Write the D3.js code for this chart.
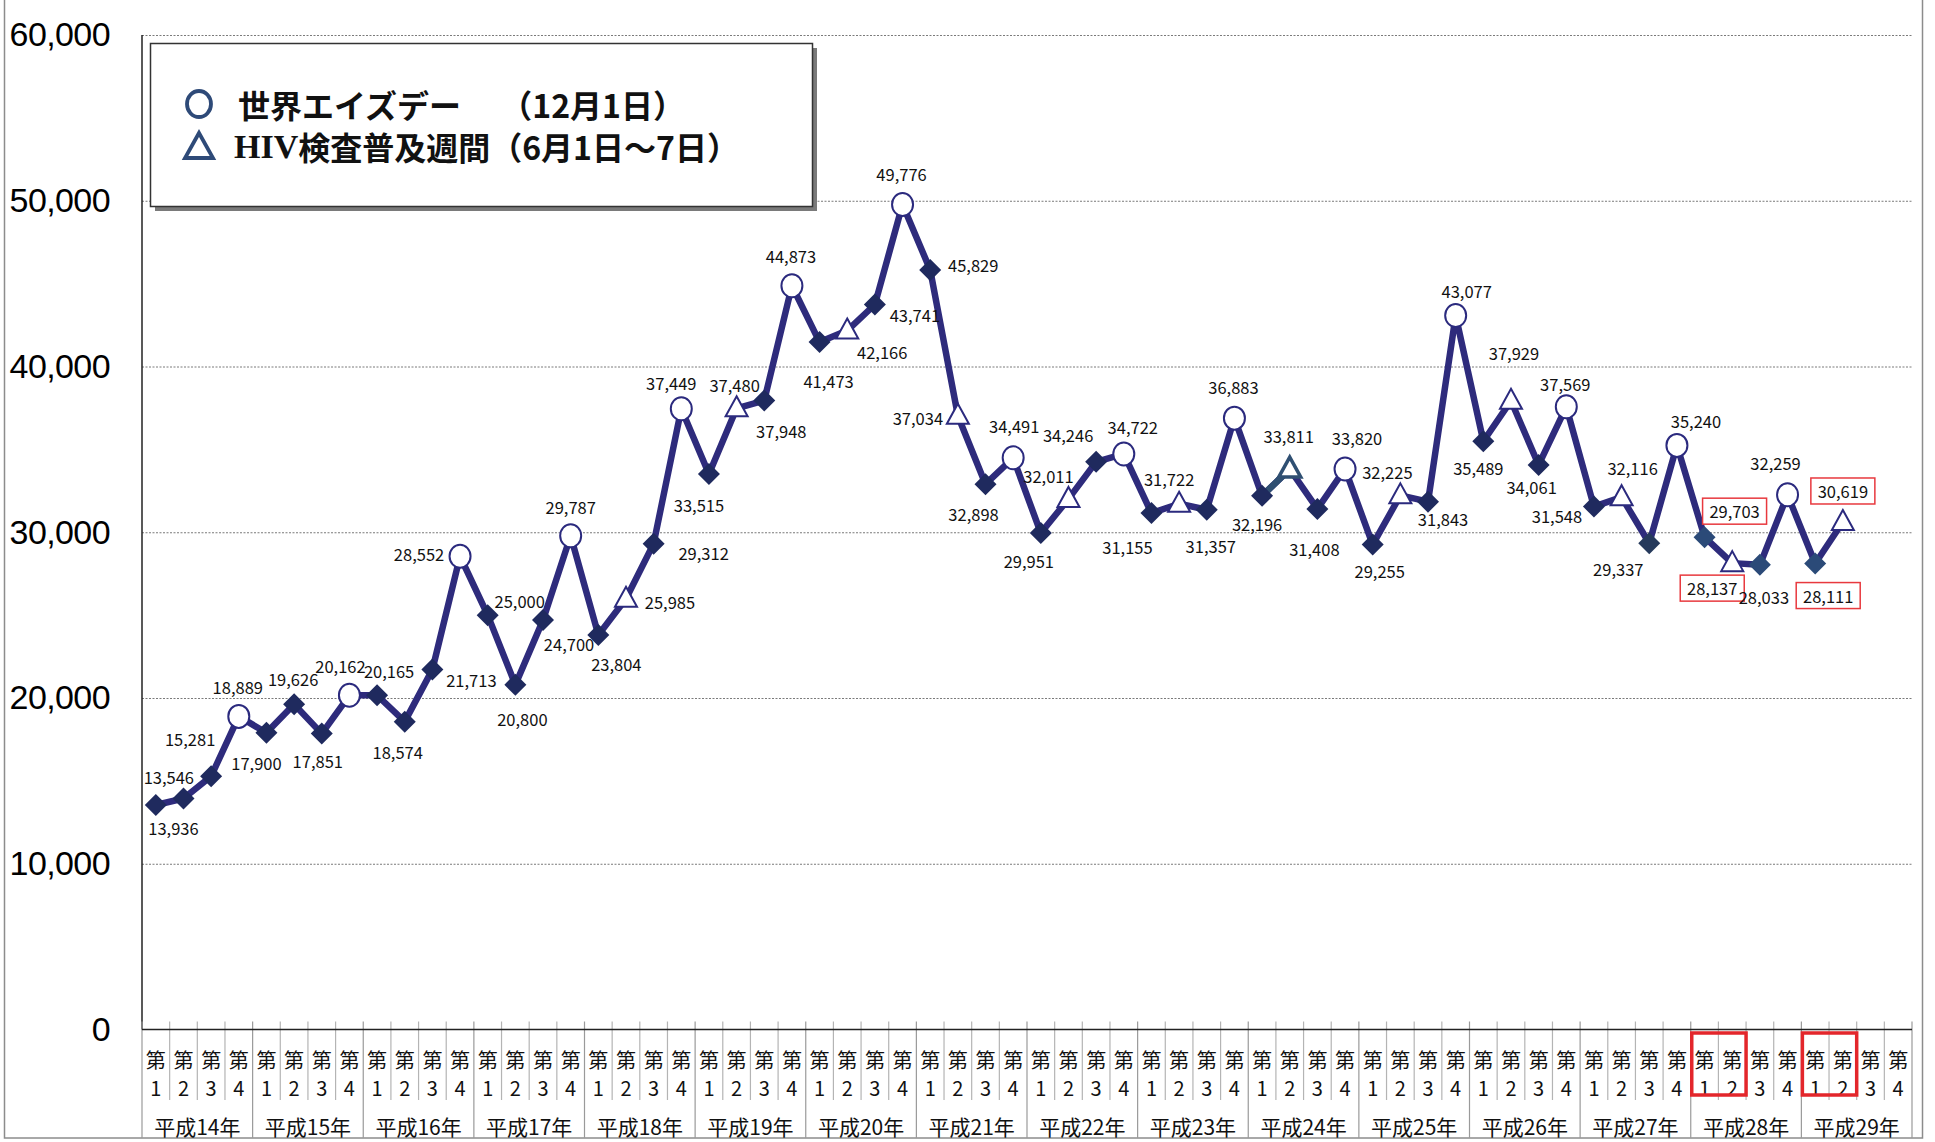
<!DOCTYPE html>
<html>
<head>
<meta charset="utf-8">
<script src="https://cdn.jsdelivr.net/npm/d3@7"></script>
<style>
  body { margin: 0; background: #fff; }
  svg { display: block; }
</style>
</head>
<body>
<script>
// quarterly counts, 平成14年 Q1 through 平成29年 Q2
const years = ['平成14年', '平成15年', '平成16年', '平成17年', '平成18年', '平成19年', '平成20年', '平成21年',
  '平成22年', '平成23年', '平成24年', '平成25年', '平成26年', '平成27年', '平成28年', '平成29年'];
const quarters = ['1', '2', '3', '4'];
const counts = [
  13546, 13936, 15281, 18889,
  17900, 19626, 17851, 20162,
  20165, 18574, 21713, 28552,
  25000, 20800, 24700, 29787,
  23804, 25985, 29312, 37449,
  33515, 37480, 37948, 44873,
  41473, 42166, 43741, 49776,
  45829, 37034, 32898, 34491,
  29951, 32011, 34246, 34722,
  31155, 31722, 31357, 36883,
  32196, 33811, 31408, 33820,
  29255, 32225, 31843, 43077,
  35489, 37929, 34061, 37569,
  31548, 32116, 29337, 35240,
  29703, 28137, 28033, 32259,
  28111, 30619
];
const yTicks = [0, 10000, 20000, 30000, 40000, 50000, 60000];
const legendItems = ['世界エイズデー　 （12月1日）', '検査普及週間（6月1日～7日）'];

// HIV testing week (triangles) only starts with 平成18年
const firstTestWeek = 17;
// the points that got a red box in the original
const boxedLabels = [56, 57, 60, 61];
const boxedQuarters = [[56, 57], [60, 61]];

// where each number sits relative to its marker (hand placed like the Excel original)
const labelNudge = [
  [13, -28], [-10, 29], [-21, -37], [-1, -29], [-10, 30], [-1, -25], [-4, 27], [-9, -29],
  [12, -24], [-7, 30], [39, 10], [-41, -2], [32, -14], [7, 34], [26, 24], [0, -29],
  [18, 29], [44, 3], [50, 9], [-10, -26], [-10, 31], [-2, -23], [17, 30], [-1, -30],
  [9, 39], [35, 21], [40, 11], [-1, -30], [43, -5], [-40, 2], [-12, 30], [1, -32],
  [-12, 28], [-20, -23], [-28, -27], [9, -27], [-24, 34], [-10, -25], [4, 36], [-1, -31],
  [-5, 28], [-1, -33], [-3, 40], [12, -31], [7, 26], [-13, -23], [15, 17], [11, -24],
  [-5, 27], [3, -48], [-7, 22], [-1, -23], [-37, 9], [11, -29], [-31, 26], [19, -24],
  [30, -26], [-20, 25], [4, 32], [-12, -32], [13, 32], [0, -31]
];

const width = 1935;
const height = 1142;
const plot = { left: 142, right: 1912, top: 35, bottom: 1029.5 };

const svg = d3.select('body').append('svg')
  .attr('width', width)
  .attr('height', height);

// outer frame, top edge sits just off the picture
svg.append('rect')
  .attr('x', 4.5).attr('y', -4)
  .attr('width', 1918).attr('height', 1142)
  .attr('fill', 'none')
  .attr('stroke', '#8c8c8c')
  .attr('stroke-width', 1.5);

const slots = d3.range(years.length * quarters.length);
const x = d3.scaleBand().domain(slots).range([plot.left, plot.right]).padding(0);
const y = d3.scaleLinear().domain([0, 60000]).range([plot.bottom, plot.top]);
const bw = x.bandwidth();
const cx = i => x(i) + bw / 2;

// y axis with dotted gridlines
const yAxis = svg.append('g')
  .attr('transform', `translate(${plot.left},0)`)
  .call(d3.axisLeft(y).tickValues(yTicks).tickFormat(d3.format(','))
    .tickSize(-(plot.right - plot.left)).tickPadding(32));
yAxis.select('.domain').remove();
yAxis.selectAll('.tick line')
  .attr('stroke', '#7a7a7a')
  .attr('stroke-width', 1)
  .attr('stroke-dasharray', '2,1.5')
  .attr('stroke-opacity', d => d === 0 ? 0 : 1);
yAxis.selectAll('.tick text')
  .attr('fill', '#000')
  .style('font-family', '"Liberation Sans", Arial, sans-serif')
  .style('font-size', '34px')
  .style('letter-spacing', '-0.6px');

svg.append('line')
  .attr('x1', plot.left).attr('x2', plot.left)
  .attr('y1', plot.top).attr('y2', plot.bottom)
  .attr('stroke', '#222').attr('stroke-width', 1.5);

// category axis, Excel style boxes under the axis line
const bounds = d3.range(slots.length + 1).map(k => k < slots.length ? x(k) : plot.right);
svg.append('g').selectAll('line')
  .data(bounds)
  .join('line')
  .attr('x1', d => d).attr('x2', d => d)
  .attr('y1', plot.bottom - 8)
  .attr('y2', (d, k) => k % 4 === 0 ? 1138 : 1100)
  .attr('stroke', (d, k) => k % 4 === 0 ? '#9a9a9a' : '#b4b4b4')
  .attr('stroke-width', 1.2);

svg.append('line')
  .attr('x1', plot.left).attr('x2', plot.right)
  .attr('y1', plot.bottom).attr('y2', plot.bottom)
  .attr('stroke', '#222').attr('stroke-width', 1.5);

const catText = svg.append('g')
  .style('font-family', '"Noto Sans CJK JP", sans-serif')
  .attr('fill', '#111')
  .attr('text-anchor', 'middle');

catText.selectAll('text.dai')
  .data(slots)
  .join('text')
  .attr('class', 'dai')
  .attr('x', cx)
  .attr('y', 1059)
  .attr('dominant-baseline', 'central')
  .style('font-size', '20px')
  .text('第');

catText.selectAll('text.q')
  .data(slots)
  .join('text')
  .attr('class', 'q')
  .attr('x', cx)
  .attr('y', 1087)
  .attr('dominant-baseline', 'central')
  .style('font-size', '20px')
  .text(i => quarters[i % 4]);

catText.selectAll('text.yr')
  .data(years)
  .join('text')
  .attr('class', 'yr')
  .attr('x', (d, j) => x(j * 4) + bw * 2)
  .attr('y', 1126)
  .attr('dominant-baseline', 'central')
  .style('font-size', '21px')
  .text(d => d);

// red boxes on 平成28/29 Q1-Q2
svg.append('g').selectAll('rect')
  .data(boxedQuarters)
  .join('rect')
  .attr('x', d => x(d[0]) + 1)
  .attr('y', 1033)
  .attr('width', d => x(d[1]) + bw - x(d[0]) - 1)
  .attr('height', 62)
  .attr('fill', 'none')
  .attr('stroke', '#e3262b')
  .attr('stroke-width', 3.5);

// the line itself
const line = d3.line()
  .x((d, i) => cx(i))
  .y(d => y(d));

svg.append('path')
  .datum(counts)
  .attr('d', line)
  .attr('fill', 'none')
  .attr('stroke', '#2e2b7c')
  .attr('stroke-width', 6.5)
  .attr('stroke-linejoin', 'round');

// one odd segment in the original comes out teal
svg.append('path')
  .datum(counts.slice(40, 42))
  .attr('d', d3.line().x((d, i) => cx(40 + i)).y(d => y(d)))
  .attr('fill', 'none')
  .attr('stroke', '#2f4f72')
  .attr('stroke-width', 6.5);

const kindOf = i => (i % 4 === 3) ? 'aids' : ((i % 4 === 1 && i >= firstTestWeek) ? 'test' : 'plain');

const marks = svg.append('g').selectAll('g')
  .data(counts)
  .join('g')
  .attr('transform', (d, i) => `translate(${cx(i)},${y(d)})`);

marks.filter((d, i) => kindOf(i) === 'plain')
  .append('path')
  .attr('d', 'M0,-11L11,0L0,11L-11,0Z')
  .attr('fill', d => {
    const idx = counts.indexOf(d);
    return idx >= 56 ? '#2b4a78' : (idx === 54 ? '#263a5c' : '#1f2a5e');
  });

marks.filter((d, i) => kindOf(i) === 'aids')
  .append('ellipse')
  .attr('rx', 10.5).attr('ry', 11.5)
  .attr('fill', '#fff')
  .attr('stroke', '#2b2a7e')
  .attr('stroke-width', 2);

marks.filter((d, i) => kindOf(i) === 'test')
  .append('path')
  .attr('d', 'M0,-12L11,8L-11,8Z')
  .attr('fill', '#fff')
  .attr('stroke', d => d === counts[41] ? '#2f4f72' : '#2b2a7e')
  .attr('stroke-width', d => d === counts[41] ? 3.5 : 2);

// value labels
const fmt = d3.format(',');
const labels = svg.append('g')
  .style('font-family', '"Noto Sans CJK JP", sans-serif')
  .style('font-size', '16.5px')
  .attr('fill', '#111')
  .attr('text-anchor', 'middle');

labels.selectAll('rect')
  .data(boxedLabels)
  .join('rect')
  .attr('x', i => cx(i) + labelNudge[i][0] - 32)
  .attr('y', i => y(counts[i]) + labelNudge[i][1] - 13)
  .attr('width', 64)
  .attr('height', 26)
  .attr('fill', '#fff')
  .attr('stroke', '#e8393e')
  .attr('stroke-width', 1.5);

labels.selectAll('text')
  .data(counts)
  .join('text')
  .attr('x', (d, i) => cx(i) + labelNudge[i][0])
  .attr('y', (d, i) => y(d) + labelNudge[i][1])
  .attr('dominant-baseline', 'central')
  .text(d => fmt(d));

// legend box with the grey drop shadow
const legend = svg.append('g');
legend.append('rect')
  .attr('x', 155).attr('y', 48)
  .attr('width', 662).attr('height', 163)
  .attr('fill', '#7a7a7a');
legend.append('rect')
  .attr('x', 150.5).attr('y', 43.5)
  .attr('width', 662).attr('height', 163)
  .attr('fill', '#fff')
  .attr('stroke', '#333')
  .attr('stroke-width', 1.5);

legend.append('ellipse')
  .attr('cx', 199).attr('cy', 104)
  .attr('rx', 12).attr('ry', 13)
  .attr('fill', 'none')
  .attr('stroke', '#2e4a78')
  .attr('stroke-width', 3.8);
legend.append('path')
  .attr('d', 'M199,133L213,158L185,158Z')
  .attr('fill', 'none')
  .attr('stroke', '#2e4a78')
  .attr('stroke-width', 3.8);

legend.append('text')
  .attr('x', 238).attr('y', 104)
  .attr('dominant-baseline', 'central')
  .style('font-family', '"Noto Sans CJK JP", sans-serif')
  .style('font-size', '32px')
  .style('font-weight', 'bold')
  .attr('fill', '#111')
  .text(legendItems[0]);

const t2 = legend.append('text')
  .attr('x', 234).attr('y', 146)
  .attr('dominant-baseline', 'central')
  .style('font-family', '"Noto Sans CJK JP", sans-serif')
  .style('font-size', '32px')
  .style('font-weight', 'bold')
  .attr('fill', '#111');
t2.append('tspan')
  .style('font-family', '"Liberation Serif", serif')
  .style('font-size', '34px')
  .text('HIV');
t2.append('tspan').text(legendItems[1]);
</script>
</body>
</html>
